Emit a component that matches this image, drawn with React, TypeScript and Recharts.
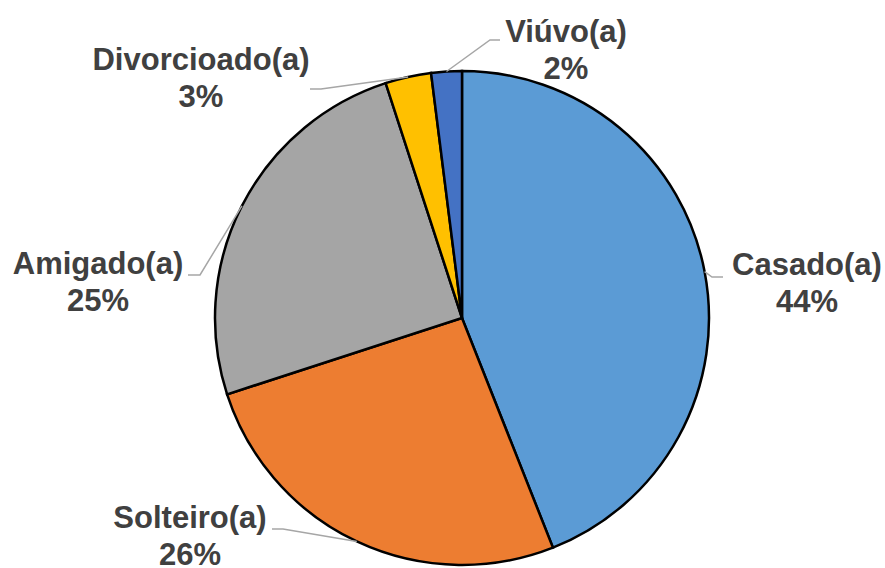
import { Cell, Pie, PieChart } from "recharts"

const categories = ["Casado(a)", "Solteiro(a)", "Amigado(a)", "Divorcioado(a)", "Viúvo(a)"]
const percentages = [44, 26, 25, 3, 2]
const sliceColors = ["#5B9BD5", "#ED7D31", "#A5A5A5", "#FFC000", "#4472C4"]

// where each two-line label sits and how its leader bends before reaching it
const labelLayout = [
  { x: 807, y: 275, elbow: [712, 277], end: [723, 277] },
  { x: 190, y: 528, elbow: [283, 529], end: [272, 529] },
  { x: 98, y: 274, elbow: [200, 275], end: [188, 275] },
  { x: 201, y: 70, elbow: [321, 89], end: [310, 89] },
  { x: 566, y: 42, elbow: [490, 40], end: [500, 40] },
]

const data = categories.map((name, i) => ({ name, value: percentages[i] }))

const RAD = Math.PI / 180

function SliceLabel(props: any) {
  const { cx, cy, midAngle, outerRadius, index, name, value } = props
  const layout = labelLayout[index]
  const px = cx + outerRadius * Math.cos(-midAngle * RAD)
  const py = cy + outerRadius * Math.sin(-midAngle * RAD)
  const points = `${px},${py} ${layout.elbow[0]},${layout.elbow[1]} ${layout.end[0]},${layout.end[1]}`
  return (
    <g>
      <polyline points={points} fill="none" stroke="#A6A6A6" strokeWidth={1.5} />
      <text
        x={layout.x}
        y={layout.y}
        textAnchor="middle"
        fill="#404040"
        fontFamily="'Liberation Sans', Arial, sans-serif"
        fontWeight="bold"
        fontSize={31}
      >
        <tspan x={layout.x}>{name}</tspan>
        <tspan x={layout.x} dy={37}>{`${value}%`}</tspan>
      </text>
    </g>
  )
}

export default function App() {
  return (
    <div style={{ position: "absolute", left: 0, top: 0, width: 885, height: 568, background: "#fff" }}>
      <PieChart width={885} height={568} margin={{ top: 0, right: 0, bottom: 0, left: 0 }}>
        <Pie
          data={data}
          dataKey="value"
          nameKey="name"
          cx={462}
          cy={318}
          outerRadius={247}
          startAngle={90}
          endAngle={-270}
          stroke="#000"
          strokeWidth={2.5}
          label={SliceLabel}
          labelLine={false}
          isAnimationActive={false}
        >
          {data.map((entry, i) => (
            <Cell key={entry.name} fill={sliceColors[i]} />
          ))}
        </Pie>
      </PieChart>
    </div>
  )
}
